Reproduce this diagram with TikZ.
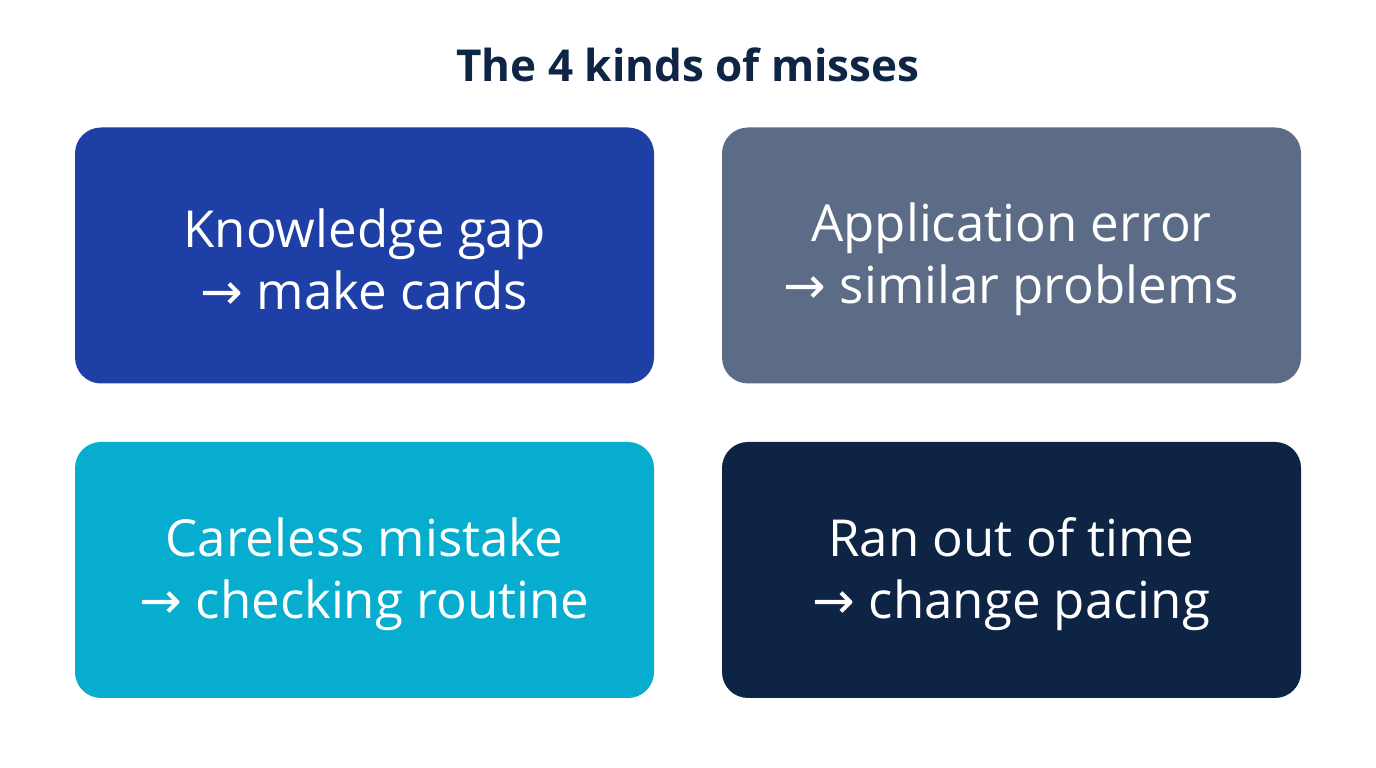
\documentclass[tikz,border=0pt]{standalone}
\usepackage{fontspec}
\setmainfont{Open Sans}
\newfontfamily\arr{DejaVu Sans}
\definecolor{cA}{HTML}{1E40A6}
\definecolor{cB}{HTML}{5C6C86}
\definecolor{cC}{HTML}{06ADCF}
\definecolor{cD}{HTML}{0E2444}
\definecolor{tt}{HTML}{0F2545}
\begin{document}
\begin{tikzpicture}[x=1pt,y=1pt,
 box/.style={rounded corners=26pt,minimum width=579pt,minimum height=256pt,inner sep=0pt},
 lbl/.style={text=white,align=center,font=\fontsize{51}{62}\selectfont,yshift=-4pt}]
\useasboundingbox[fill=white] (0,0) rectangle (1376,768);
\node[font=\bfseries\fontsize{44}{50}\selectfont,text=tt] (t) at (688,703) {The 4 kinds of misses};
\node[box,fill=cA] (a) at (364.5,512.5) {};
\node[box,fill=cB] (b) at (1011.5,512.5) {};
\node[box,fill=cC] (c) at (364.5,198) {};
\node[box,fill=cD] (d) at (1011.5,198) {};
\node[lbl] (ta) at (a) {Knowledge gap\\{\arr →} make cards};
\node[lbl] (tb) at (b) {Application error\\{\arr →} similar problems};
\node[lbl] (tc) at (c) {Careless mistake\\{\arr →} checking routine};
\node[lbl] (td) at (d) {Ran out of time\\{\arr →} change pacing};
\end{tikzpicture}
\end{document}
